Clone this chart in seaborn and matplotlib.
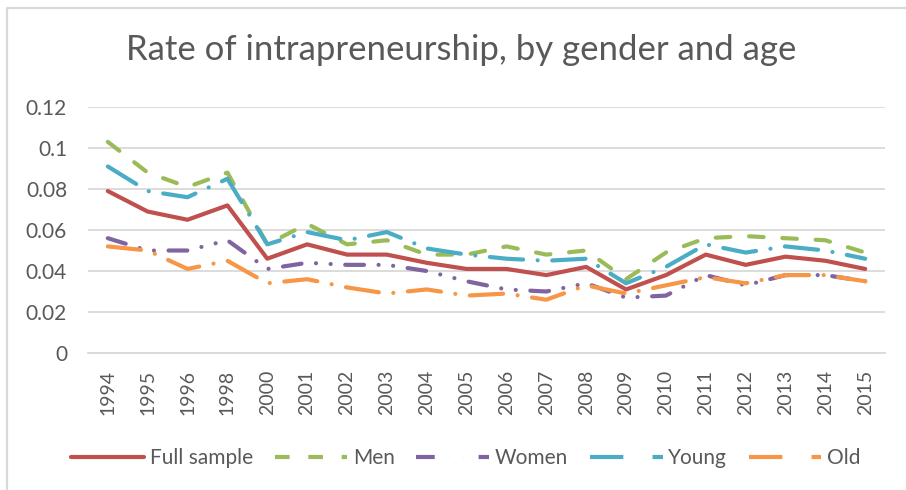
import pandas as pd
import matplotlib.pyplot as plt
import seaborn as sns
from matplotlib.lines import Line2D

# Data
years = ['1994', '1995', '1996', '1998', '2000', '2001', '2002', '2003', '2004', '2005',
         '2006', '2007', '2008', '2009', '2010', '2011', '2012', '2013', '2014', '2015']
full_sample = [0.079, 0.069, 0.065, 0.072, 0.046, 0.053, 0.048, 0.048, 0.044, 0.041,
               0.041, 0.038, 0.042, 0.031, 0.038, 0.048, 0.043, 0.047, 0.045, 0.041]
men = [0.103, 0.088, 0.081, 0.088, 0.053, 0.063, 0.053, 0.055, 0.048, 0.048,
       0.052, 0.048, 0.050, 0.036, 0.049, 0.056, 0.057, 0.056, 0.055, 0.049]
women = [0.056, 0.050, 0.050, 0.055, 0.041, 0.044, 0.043, 0.043, 0.040, 0.035,
         0.031, 0.030, 0.034, 0.027, 0.028, 0.038, 0.033, 0.038, 0.038, 0.035]
young = [0.091, 0.079, 0.076, 0.085, 0.053, 0.059, 0.055, 0.059, 0.051, 0.048,
         0.046, 0.045, 0.046, 0.034, 0.042, 0.053, 0.049, 0.052, 0.050, 0.046]
old = [0.052, 0.050, 0.041, 0.045, 0.034, 0.036, 0.032, 0.029, 0.031, 0.028,
       0.029, 0.026, 0.033, 0.029, 0.033, 0.037, 0.034, 0.038, 0.038, 0.035]

series = {'Full sample': full_sample, 'Men': men, 'Women': women, 'Young': young, 'Old': old}
df = pd.concat([pd.DataFrame({'Year': years, 'Rate': v, 'Group': k}) for k, v in series.items()])

colors = {'Full sample': '#C0504D', 'Men': '#9BBB59', 'Women': '#8064A2',
          'Young': '#4BACC6', 'Old': '#F79646'}
# dash patterns in units of line width (round caps add one width to each dash)
dashes = {'Full sample': '', 'Men': (3.5, 4.5), 'Women': (4.5, 3.5, 0.01, 3.5, 0.01, 3.5),
          'Young': (8, 3.5, 0.01, 3.5), 'Old': (8, 3.5, 0.01, 3.5)}

sns.set_style('white')
plt.rcParams['font.family'] = ['Lato', 'DejaVu Sans']
text_color = '#595959'

fig = plt.figure(figsize=(9.06, 4.90), dpi=100)
ax = fig.add_axes([0.097, 0.2796, 0.88, 0.502])

sns.lineplot(data=df, x='Year', y='Rate', hue='Group', style='Group',
             palette=colors, dashes=dashes, linewidth=3, sort=False, ax=ax)
for line in ax.lines:
    line.set_dash_capstyle('round')
    line.set_solid_capstyle('round')

ax.set_ylim(0, 0.12)
ax.set_xlim(-0.5, len(years) - 0.5)
ax.set_yticks([0, 0.02, 0.04, 0.06, 0.08, 0.1, 0.12])
ax.set_yticklabels(['0', '0.02', '0.04', '0.06', '0.08', '0.1', '0.12'])
ax.yaxis.grid(True, color='#d9d9d9', linewidth=1.3)
ax.set_axisbelow(True)
for s in ['top', 'right', 'left']:
    ax.spines[s].set_visible(False)
ax.spines['bottom'].set_color('#d9d9d9')
ax.spines['bottom'].set_linewidth(1.3)
ax.tick_params(axis='x', rotation=90, labelsize=14, colors=text_color, length=0, pad=12)
ax.tick_params(axis='y', labelsize=15, colors=text_color, length=0, pad=15)
ax.set_xlabel('')
ax.set_ylabel('')

sns.move_legend(ax, 'center', bbox_to_anchor=(0.474, -0.4275),
                ncol=5, frameon=False, title=None, fontsize=15, handlelength=3.5,
                columnspacing=1.05, handletextpad=0.25)
for t in ax.get_legend().get_texts():
    t.set_color(text_color)

fig.suptitle('Rate of intrapreneurship, by gender and age', x=0.509, y=0.898, va='center',
             fontsize=25, color=text_color)

# Excel chart border (left and top edges visible in the crop)
fig.lines.append(Line2D([0.0077, 0.0077, 1.0], [0.0, 0.9837, 0.9837], transform=fig.transFigure,
                        color='#d9d9d9', linewidth=1.6))

fig.savefig('out.png', dpi=100)
